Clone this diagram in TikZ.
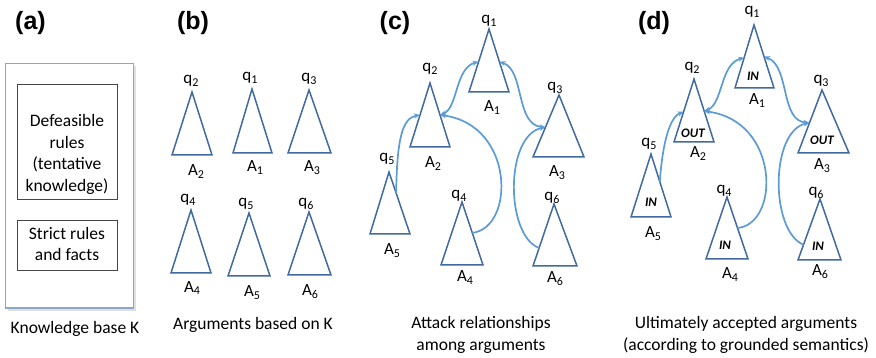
\documentclass[tikz,border=0pt]{standalone}
\usepackage{fontspec}
\setmainfont{Carlito}
\newfontfamily\panelfont{Liberation Sans}
\usetikzlibrary{arrows.meta,calc}

\definecolor{triblue}{RGB}{64,106,160}
\definecolor{attackblue}{RGB}{92,155,213}
\definecolor{kbframe}{RGB}{140,166,200}
\definecolor{boxgray}{RGB}{70,70,70}

% lowered small digit for argument and conclusion names
\newcommand\lsub[1]{\raisebox{-0.3ex}{\fontsize{12}{12}\selectfont #1}}
% argument triangle: name, apex x, apex y, base left x, base right x, base y
\newcommand\argtri[6]{%
  \coordinate (#1t) at (#2,#3);
  \coordinate (#1l) at (#4,#6);
  \coordinate (#1r) at (#5,#6);
  \draw[tri] (#1t) -- (#1l) -- (#1r) -- cycle;}

\begin{document}
\begin{tikzpicture}[x=1pt,y=-1pt,
  tri/.style={draw=triblue,line width=1.5pt,line join=miter},
  attack/.style={draw=attackblue,line width=1.7pt,-{Stealth[length=6pt,width=5pt]}},
  mutual/.style={attack,{Stealth[length=6pt,width=5pt]}-{Stealth[length=6pt,width=5pt]}},
  lbl/.style={font=\fontsize{17}{17}\selectfont,inner sep=0pt,anchor=base},
  captext/.style={font=\fontsize{17.5}{22}\selectfont,inner sep=0pt,align=center},
  boxtext/.style={font=\fontsize{17.5}{21.7}\selectfont,inner sep=0pt,align=center},
  panel/.style={font=\panelfont\bfseries\fontsize{25}{25}\selectfont,inner sep=0pt},
  status/.style={font=\bfseries\itshape\fontsize{13}{13}\selectfont,inner sep=0pt},
  kbbox/.style={draw=boxgray,line width=1pt}]
\useasboundingbox (0,0) rectangle (876,358);

% ---------- (a) knowledge base ----------
\node[panel] (pa) at (30.5,23) {(a)};
\fill[black!12] (7.5,66.5) rectangle (135.5,310.5);
\draw[draw=kbframe,fill=white,line width=1pt] (5,64) rectangle (133,308);
\draw[kbbox] (17,85) rectangle (117,200);
\draw[kbbox] (17,221) rectangle (117,271);
\node[boxtext] (defrules) at (67,154.5)
  {Defeasible\\rules\\(tentative\\knowledge)};
\node[boxtext] (strict) at (67,244)
  {Strict rules\\and facts};
\node[captext,anchor=base] (capa) at (75,333) {Knowledge base K};

% ---------- (b) arguments ----------
\node[panel] (pb) at (193,23) {(b)};
\argtri{b2}{192}{92}{172}{212}{155}
\argtri{b1}{252}{89}{233}{272}{153}
\argtri{b3}{309}{90}{288}{331}{153}
\argtri{b4}{191}{210}{171}{211}{273}
\argtri{b5}{249}{213}{228}{270}{276}
\argtri{b6}{309}{212}{288}{331}{275}
\node[lbl] (bq2) at (191,84) {q\lsub{2}};
\node[lbl] (bq1) at (250,81) {q\lsub{1}};
\node[lbl] (bq3) at (309,82) {q\lsub{3}};
\node[lbl] (bq4) at (188,203) {q\lsub{4}};
\node[lbl] (bq5) at (246,207) {q\lsub{5}};
\node[lbl] (bq6) at (306,207) {q\lsub{6}};
\node[lbl] (ba2) at (196,176) {A\lsub{2}};
\node[lbl] (ba1) at (255,172) {A\lsub{1}};
\node[lbl] (ba3) at (312,172) {A\lsub{3}};
\node[lbl] (ba4) at (192,292) {A\lsub{4}};
\node[lbl] (ba5) at (252,297) {A\lsub{5}};
\node[lbl] (ba6) at (310,296) {A\lsub{6}};
\node[captext,anchor=base] (capb) at (253,330) {Arguments based on K};

% ---------- (c) attacks ----------
\node[panel] (pc) at (395,23) {(c)};
\argtri{c1}{489}{29}{469}{509}{92}
\argtri{c2}{430}{83}{410}{450}{147}
\argtri{c3}{559}{95}{533}{584}{157}
\argtri{c5}{389}{172}{370}{410}{234}
\argtri{c4}{462}{202}{441}{483}{265}
\argtri{c6}{554}{204}{533}{577}{266}
\node[lbl] (cq1) at (489,24) {q\lsub{1}};
\node[lbl] (cq2) at (430,72) {q\lsub{2}};
\node[lbl] (cq3) at (555,91) {q\lsub{3}};
\node[lbl] (cq5) at (387,162) {q\lsub{5}};
\node[lbl] (cq4) at (459,199) {q\lsub{4}};
\node[lbl] (cq6) at (552,201) {q\lsub{6}};
\node[lbl] (ca1) at (492,112) {A\lsub{1}};
\node[lbl] (ca2) at (433,168) {A\lsub{2}};
\node[lbl] (ca3) at (557,177) {A\lsub{3}};
\node[lbl] (ca5) at (392,255) {A\lsub{5}};
\node[lbl] (ca4) at (465,282) {A\lsub{4}};
\node[lbl] (ca6) at (555,283) {A\lsub{6}};
\coordinate (c1w) at ($(c1t)!0.52!(c1l)$);
\coordinate (c1e) at ($(c1t)!0.52!(c1r)$);
\coordinate (c2e) at ($(c2t)!0.5!(c2r)$);
\coordinate (c2w) at ($(c2t)!0.5!(c2l)$);
\coordinate (c3w) at ($(c3t)!0.52!(c3l)$);
\coordinate (c4e) at ($(c4t)!0.49!(c4r)$);
\coordinate (c5e) at ($(c5t)!0.34!(c5r)$);
\coordinate (c6w) at ($(c6t)!0.71!(c6l)$);
\draw[mutual] (c2e) .. controls (458,108) and (455,68) .. (c1w);
\draw[mutual] (c1e) .. controls (525,70) and (515,125) .. (c3w);
\draw[attack] (c4e) .. controls (515,228) and (515,125) .. (c2e);
\draw[attack] (c5e) .. controls (397,140) and (402,118) .. (c2w);
\draw[attack] (c6w) .. controls (505,235) and (505,135) .. (c3w);
\node[captext] (capc) at (481,335) {Attack relationships\\among arguments};

% ---------- (d) grounded labelling ----------
\node[panel] (pd) at (654,23) {(d)};
\argtri{d1}{754}{25}{735}{774}{88}
\argtri{d2}{694}{79}{674}{714}{142}
\argtri{d3}{822}{90}{798}{849}{153}
\argtri{d5}{651}{154}{631}{671}{217}
\argtri{d4}{727}{197}{706}{748}{259}
\argtri{d6}{820}{199}{798}{841}{260}
\node[lbl] (dq1) at (752,15) {q\lsub{1}};
\node[lbl] (dq2) at (692,71) {q\lsub{2}};
\node[lbl] (dq3) at (821,84) {q\lsub{3}};
\node[lbl] (dq5) at (649,147) {q\lsub{5}};
\node[lbl] (dq4) at (724,194) {q\lsub{4}};
\node[lbl] (dq6) at (816,196) {q\lsub{6}};
\node[lbl] (da1) at (757,105) {A\lsub{1}};
\node[lbl] (da2) at (698,158) {A\lsub{2}};
\node[lbl] (da3) at (822,170) {A\lsub{3}};
\node[lbl] (da5) at (653,238) {A\lsub{5}};
\node[lbl] (da4) at (730,279) {A\lsub{4}};
\node[lbl] (da6) at (820,276) {A\lsub{6}};
\node[status] (s1) at (753,76) {IN};
\node[status] (s2) at (693,133) {OUT};
\node[status] (s3) at (822,140) {OUT};
\node[status] (s5) at (651,202) {IN};
\node[status] (s4) at (725,245) {IN};
\node[status] (s6) at (818,246) {IN};
\coordinate (d1w) at ($(d1t)!0.52!(d1l)$);
\coordinate (d1e) at ($(d1t)!0.5!(d1r)$);
\coordinate (d2e) at ($(d2t)!0.51!(d2r)$);
\coordinate (d2w) at ($(d2t)!0.52!(d2l)$);
\coordinate (d3w) at ($(d3t)!0.52!(d3l)$);
\coordinate (d4e) at ($(d4t)!0.5!(d4r)$);
\coordinate (d5e) at ($(d5t)!0.44!(d5r)$);
\coordinate (d6w) at ($(d6t)!0.75!(d6l)$);
\draw[mutual] (d2e) .. controls (723,104) and (720,64) .. (d1w);
\draw[mutual] (d1e) .. controls (790,66) and (780,121) .. (d3w);
\draw[attack] (d4e) .. controls (780,224) and (780,121) .. (d2e);
\draw[attack] (d5e) .. controls (662,150) and (668,118) .. (d2w);
\draw[attack] (d6w) .. controls (770,231) and (770,131) .. (d3w);
\node[captext] (capd) at (746,335) {Ultimately accepted arguments\\(according to grounded semantics)};
\end{tikzpicture}
\end{document}
